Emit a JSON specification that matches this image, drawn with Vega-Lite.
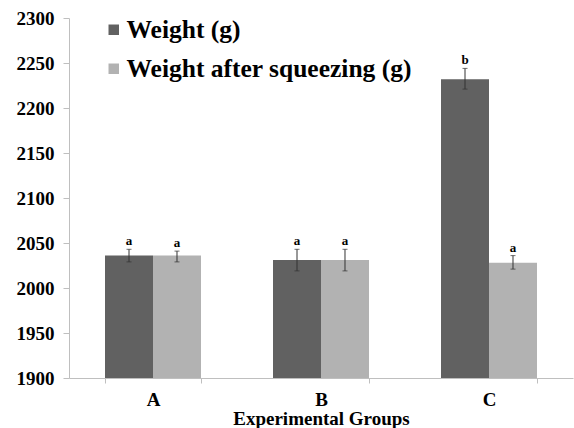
{
  "$schema": "https://vega.github.io/schema/vega-lite/v6.json",
  "width": 504,
  "height": 360,
  "autosize": {"type": "none"},
  "padding": {"left": 69, "top": 18, "right": 1, "bottom": 50},
  "background": "white",
  "config": {
    "view": {"stroke": null},
    "font": "Liberation Serif"
  },
  "data": {
    "values": [
      {"group": "A", "series": "Weight (g)", "value": 2036, "lo": 2029, "hi": 2043, "sig": "a"},
      {"group": "A", "series": "Weight after squeezing (g)", "value": 2036, "lo": 2029, "hi": 2041, "sig": "a"},
      {"group": "B", "series": "Weight (g)", "value": 2031, "lo": 2019, "hi": 2043, "sig": "a"},
      {"group": "B", "series": "Weight after squeezing (g)", "value": 2031, "lo": 2019, "hi": 2043, "sig": "a"},
      {"group": "C", "series": "Weight (g)", "value": 2232, "lo": 2221, "hi": 2244, "sig": "b"},
      {"group": "C", "series": "Weight after squeezing (g)", "value": 2028, "lo": 2021, "hi": 2036, "sig": "a"}
    ]
  },
  "encoding": {
    "x": {
      "field": "group",
      "type": "nominal",
      "scale": {"paddingInner": 0.4286, "paddingOuter": 0.2143},
      "axis": {
        "title": "Experimental Groups",
        "labelAngle": 0,
        "labelFont": "Liberation Serif",
        "labelFontWeight": "bold",
        "labelFontSize": 19,
        "labelColor": "black",
        "labelPadding": 7,
        "titleFont": "Liberation Serif",
        "titleFontWeight": "bold",
        "titleFontSize": 19,
        "titleColor": "black",
        "titlePadding": 0,
        "tickBand": "extent",
        "tickSize": 5,
        "tickColor": "#bfbfbf",
        "domainColor": "#bfbfbf"
      }
    },
    "xOffset": {
      "field": "series",
      "type": "nominal",
      "sort": ["Weight (g)", "Weight after squeezing (g)"],
      "scale": {"paddingInner": 0, "paddingOuter": 0}
    }
  },
  "layer": [
    {
      "mark": {"type": "bar", "clip": true},
      "encoding": {
        "y": {
          "field": "value",
          "type": "quantitative",
          "scale": {"domain": [1900, 2300], "zero": false, "nice": false},
          "axis": {
            "title": null,
            "format": "d",
            "values": [1900, 1950, 2000, 2050, 2100, 2150, 2200, 2250, 2300],
            "grid": false,
            "labelFont": "Liberation Serif",
            "labelFontWeight": "bold",
            "labelFontSize": 19,
            "labelColor": "black",
            "labelPadding": 9,
            "tickSize": 6,
            "tickColor": "#bfbfbf",
            "domainColor": "#bfbfbf"
          }
        },
        "color": {
          "field": "series",
          "type": "nominal",
          "sort": ["Weight (g)", "Weight after squeezing (g)"],
          "scale": {"domain": ["Weight (g)", "Weight after squeezing (g)"], "range": ["#616161", "#b2b2b2"]},
          "legend": {
            "title": null,
            "orient": "none",
            "legendX": 32,
            "legendY": -1,
            "padding": 0,
            "symbolType": "square",
            "symbolSize": 110,
            "symbolStrokeWidth": 0,
            "labelFont": "Liberation Serif",
            "labelFontWeight": "bold",
            "labelFontSize": 25.5,
            "labelColor": "black",
            "labelOffset": 0,
            "rowPadding": 12,
            "labelLimit": 500
          }
        }
      }
    },
    {
      "mark": {"type": "rule", "color": "#333333", "strokeWidth": 1},
      "encoding": {
        "y": {"field": "lo", "type": "quantitative"},
        "y2": {"field": "hi"}
      }
    },
    {
      "mark": {"type": "tick", "color": "#333333", "thickness": 1, "size": 5},
      "encoding": {
        "y": {"field": "lo", "type": "quantitative"}
      }
    },
    {
      "mark": {"type": "tick", "color": "#333333", "thickness": 1, "size": 5},
      "encoding": {
        "y": {"field": "hi", "type": "quantitative"}
      }
    },
    {
      "mark": {"type": "text", "font": "Liberation Serif", "fontWeight": "bold", "fontSize": 13, "dy": -8, "color": "black"},
      "encoding": {
        "y": {"field": "hi", "type": "quantitative"},
        "text": {"field": "sig"}
      }
    }
  ]
}
